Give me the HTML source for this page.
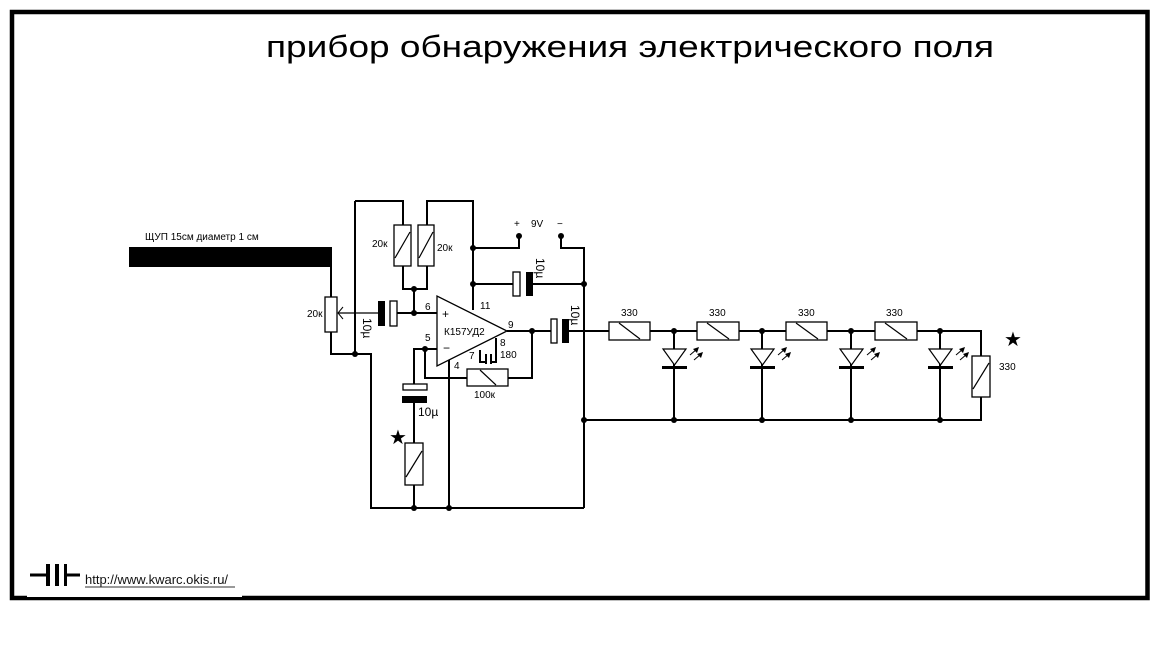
<!DOCTYPE html>
<html><head><meta charset="utf-8"><style>
html,body{margin:0;padding:0;background:#fff;}
svg{display:block;font-family:"Liberation Sans",sans-serif;}
</style></head><body>
<svg width="1175" height="650" viewBox="0 0 1175 650" xmlns="http://www.w3.org/2000/svg">
<rect x="0" y="0" width="1175" height="650" fill="#fff"/>
<!-- frame -->
<rect x="12" y="12" width="1135.5" height="586" fill="none" stroke="#000" stroke-width="4.5"/>
<rect x="27" y="592" width="215" height="5" fill="#fff"/>
<text x="630" y="57" font-size="31" text-anchor="middle" textLength="728" lengthAdjust="spacingAndGlyphs">прибор обнаружения электрического поля</text>

<g stroke="#000" stroke-width="2" fill="none">
<!-- probe -->
<line x1="331" y1="267" x2="331" y2="297"/>
<rect x="325" y="297" width="12" height="35" fill="#fff" stroke-width="1.3"/>
<polyline points="331,332 331,354 371,354 371,508 584,508"/>
<line x1="355" y1="201" x2="355" y2="354"/>
<polyline points="355,201 403,201 403,225"/>
<polyline points="427,225 427,201 473,201 473,310"/>
<polyline points="403,266 403,289 427,289 427,266"/>
<line x1="414" y1="289" x2="414" y2="314"/>
<line x1="338" y1="313" x2="378" y2="313" stroke-width="1.3"/>
<line x1="397" y1="313" x2="437" y2="313"/>
<!-- 9V -->
<polyline points="473,248 519,248 519,236"/>
<polyline points="561,236 561,248 584,248 584,508"/>
<line x1="473" y1="284" x2="513" y2="284"/>
<line x1="533" y1="284" x2="584" y2="284"/>
<!-- output -->
<line x1="507" y1="331" x2="551" y2="331"/>
<line x1="568" y1="331" x2="609" y2="331"/>
<!-- feedback -->
<polyline points="437,349 425,349 425,378 467,378"/>
<polyline points="508,378 532,378 532,331"/>
<polyline points="425,349 414,349 414,384"/>
<line x1="414" y1="403" x2="414" y2="443"/>
<line x1="414" y1="485" x2="414" y2="508"/>
<line x1="449" y1="358" x2="449" y2="508"/>
<!-- pins 7,8 -->
<polyline points="480,350 480,362 486,362"/>
<polyline points="496,338 496,362 491,362"/>
<line x1="486" y1="354" x2="486" y2="364"/>
<line x1="491" y1="354" x2="491" y2="364"/>
<!-- LED chain wires -->
<line x1="650" y1="331" x2="697" y2="331"/>
<line x1="739" y1="331" x2="786" y2="331"/>
<line x1="827" y1="331" x2="875" y2="331"/>
<polyline points="917,331 981,331 981,356"/>
<polyline points="981,397 981,420 584,420"/>
<line x1="674" y1="331" x2="674" y2="420"/>
<line x1="762" y1="331" x2="762" y2="420"/>
<line x1="851" y1="331" x2="851" y2="420"/>
<line x1="940" y1="331" x2="940" y2="420"/>
</g>
<!-- probe bar -->
<rect x="129" y="247" width="203" height="20" fill="#000"/>
<text x="145" y="240" font-size="10">ЩУП 15см диаметр 1 см</text>
<!-- pot arrow -->
<polyline points="343,307 338,313 343,319" fill="none" stroke="#000" stroke-width="1"/>
<text x="307" y="317" font-size="10">20к</text>
<!-- resistors -->
<g fill="#fff" stroke="#000" stroke-width="1.3">
<rect x="394" y="225" width="17" height="41"/>
<rect x="418" y="225" width="16" height="41"/>
<rect x="467" y="369" width="41" height="17"/>
<rect x="405" y="443" width="18" height="42"/>
<rect x="609" y="322" width="41" height="18"/>
<rect x="697" y="322" width="42" height="18"/>
<rect x="786" y="322" width="41" height="18"/>
<rect x="875" y="322" width="42" height="18"/>
<rect x="972" y="356" width="18" height="41"/>
</g>
<g stroke="#000" stroke-width="1.2">
<line x1="395" y1="258" x2="410" y2="232"/>
<line x1="419" y1="258" x2="433" y2="232"/>
<line x1="406" y1="477" x2="422" y2="451"/>
<line x1="973" y1="389" x2="989" y2="363"/>
<line x1="480" y1="370" x2="496" y2="385"/>
<line x1="619" y1="323" x2="640" y2="339"/>
<line x1="707" y1="323" x2="729" y2="339"/>
<line x1="796" y1="323" x2="818" y2="339"/>
<line x1="885" y1="323" x2="907" y2="339"/>
</g>
<g font-size="10">
<text x="372" y="247">20к</text>
<text x="437" y="251">20к</text>
<text x="474" y="398">100к</text>
<text x="621" y="316">330</text>
<text x="709" y="316">330</text>
<text x="798" y="316">330</text>
<text x="886" y="316">330</text>
<text x="999" y="370">330</text>
</g>
<!-- caps -->
<rect x="378" y="301" width="7" height="25" fill="#000"/>
<rect x="390" y="301" width="7" height="25" fill="#fff" stroke="#000" stroke-width="1.3"/>
<rect x="513" y="272" width="7" height="24" fill="#fff" stroke="#000" stroke-width="1.3"/>
<rect x="526" y="272" width="7" height="24" fill="#000"/>
<rect x="551" y="319" width="6" height="24" fill="#fff" stroke="#000" stroke-width="1.3"/>
<rect x="562" y="319" width="7" height="24" fill="#000"/>
<rect x="403" y="384" width="24" height="6" fill="#fff" stroke="#000" stroke-width="1.3"/>
<rect x="402" y="396" width="25" height="7" fill="#000"/>
<g font-size="12">
<text transform="translate(363,318) rotate(90)">10µ</text>
<text transform="translate(536,258) rotate(90)">10µ</text>
<text transform="translate(571,305) rotate(90)">10µ</text>
<text x="418" y="416">10µ</text>
</g>
<!-- opamp -->
<polygon points="437,296 437,366 507,331" fill="#fff" stroke="#000" stroke-width="1.3"/>
<g font-size="10">
<text x="442" y="318" font-size="12">+</text>
<text x="443" y="352" font-size="12">−</text>
<text x="444" y="335">К157УД2</text>
<text x="425" y="310">6</text>
<text x="425" y="341">5</text>
<text x="480" y="309">11</text>
<text x="508" y="328">9</text>
<text x="500" y="346">8</text>
<text x="500" y="358">180</text>
<text x="469" y="359">7</text>
<text x="454" y="369">4</text>
<text x="514" y="227">+</text>
<text x="531" y="227">9V</text>
<text x="557" y="227">−</text>
</g>
<!-- LEDs -->
<g>
<g id="led">
<polygon points="663,349 686,349 674.5,365" fill="#fff" stroke="#000" stroke-width="1.2"/>
<rect x="662" y="366" width="25" height="3" fill="#000"/>
<line x1="690" y1="355" x2="697" y2="349" stroke="#000" stroke-width="1"/>
<polygon points="699,347 693,349 697,353" fill="#000"/>
<line x1="694" y1="360" x2="701" y2="354" stroke="#000" stroke-width="1"/>
<polygon points="703,352 697,354 701,358" fill="#000"/>
</g>
<use href="#led" x="88"/>
<use href="#led" x="177"/>
<use href="#led" x="266"/>
</g>
<!-- dots -->
<g fill="#000">
<circle cx="355" cy="354" r="3"/><circle cx="414" cy="289" r="3"/><circle cx="414" cy="313" r="3"/>
<circle cx="473" cy="248" r="3"/><circle cx="473" cy="284" r="3"/><circle cx="519" cy="236" r="3"/>
<circle cx="561" cy="236" r="3"/><circle cx="584" cy="284" r="3"/><circle cx="532" cy="331" r="3"/>
<circle cx="425" cy="349" r="3"/><circle cx="414" cy="508" r="3"/><circle cx="449" cy="508" r="3"/>
<circle cx="584" cy="420" r="3"/>
<circle cx="674" cy="331" r="3"/><circle cx="762" cy="331" r="3"/><circle cx="851" cy="331" r="3"/><circle cx="940" cy="331" r="3"/>
<circle cx="674" cy="420" r="3"/><circle cx="762" cy="420" r="3"/><circle cx="851" cy="420" r="3"/><circle cx="940" cy="420" r="3"/>
</g>
<text x="398" y="444" font-size="20" text-anchor="middle">★</text>
<text x="1013" y="346" font-size="20" text-anchor="middle">★</text>
<!-- footer -->
<line x1="30" y1="575" x2="46" y2="575" stroke="#000" stroke-width="3"/>
<rect x="46" y="564" width="4" height="22" fill="#000"/>
<rect x="55" y="564" width="4" height="22" fill="#000"/>
<rect x="64" y="564" width="3" height="22" fill="#000"/>
<line x1="67" y1="575" x2="80" y2="575" stroke="#000" stroke-width="3"/>
<text x="85" y="584" font-size="13" fill="#111">http://www.kwarc.okis.ru/</text>
<line x1="85" y1="587" x2="235" y2="587" stroke="#333" stroke-width="1"/>
</svg>
</body></html>
